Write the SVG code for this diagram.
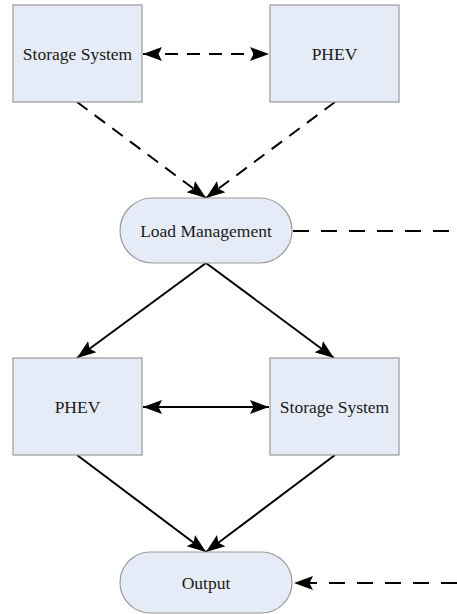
<svg xmlns="http://www.w3.org/2000/svg" width="457" height="614" viewBox="0 0 457 614">
<style>
.node{fill:#E6ECF7;stroke:#9A9A9A;stroke-width:1.2}
.lbl{font-family:'Liberation Serif','DejaVu Serif',Times,serif;font-size:17.5px;fill:#1a1a1a;text-anchor:middle}
.c{stroke:#000;stroke-width:2;fill:none}
.d1{stroke-dasharray:13 9}
.d2{stroke-dasharray:16 12}
</style>
<defs>
<marker id="ah" markerUnits="userSpaceOnUse" markerWidth="22" markerHeight="16" refX="19" refY="8" orient="auto-start-reverse">
<path d="M0,1 L19,8 L0,15 L3.5,8 z" fill="#000"/>
</marker>
</defs>
<rect width="457" height="614" fill="#fff"/>
<g id="connectors">
<line class="c d1" x1="143" y1="54" x2="269" y2="54" marker-start="url(#ah)" marker-end="url(#ah)"/>
<line class="c d1" x1="77" y1="102" x2="206" y2="198" marker-end="url(#ah)"/>
<line class="c d1" x1="335" y1="102" x2="206" y2="198" marker-end="url(#ah)"/>
<line class="c d2" x1="293" y1="231" x2="457" y2="231"/>
<line class="c" x1="206" y1="263" x2="77" y2="358" marker-end="url(#ah)"/>
<line class="c" x1="206" y1="263" x2="334" y2="358" marker-end="url(#ah)"/>
<line class="c" x1="143" y1="407" x2="269" y2="407" marker-start="url(#ah)" marker-end="url(#ah)"/>
<line class="c" x1="77" y1="455" x2="206" y2="552" marker-end="url(#ah)"/>
<line class="c" x1="335" y1="455" x2="206" y2="552" marker-end="url(#ah)"/>
<line class="c d2" x1="457" y1="583" x2="294" y2="583" marker-end="url(#ah)"/>
</g>
<g id="storage-top">
<rect class="node" x="13" y="5" width="129" height="97"/>
<text class="lbl" x="77.5" y="60">Storage System</text>
</g>
<g id="phev-top">
<rect class="node" x="270" y="5" width="129" height="97"/>
<text class="lbl" x="334.5" y="60">PHEV</text>
</g>
<g id="load-management">
<rect class="node" x="120" y="198" width="172" height="65" rx="32.5"/>
<text class="lbl" x="206" y="237">Load Management</text>
</g>
<g id="phev-bottom">
<rect class="node" x="13" y="358" width="129" height="97"/>
<text class="lbl" x="77.5" y="413">PHEV</text>
</g>
<g id="storage-bottom">
<rect class="node" x="270" y="358" width="129" height="97"/>
<text class="lbl" x="334.5" y="413">Storage System</text>
</g>
<g id="output">
<rect class="node" x="120" y="552" width="172" height="61" rx="30.5"/>
<text class="lbl" x="206" y="589">Output</text>
</g>
</svg>
